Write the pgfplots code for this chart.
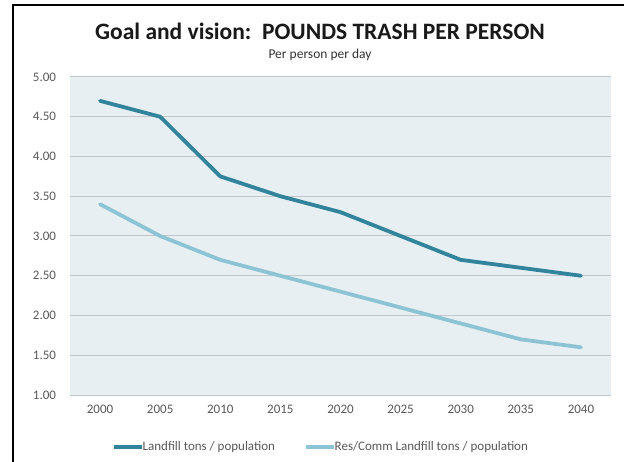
\documentclass[border=0pt]{standalone}
\usepackage{pgfplots}
\pgfplotsset{compat=1.18}
\usepackage{fontspec}
\setmainfont{Carlito}

\definecolor{darkaqua}{HTML}{31849B}
\definecolor{lightaqua}{HTML}{8CC4D6}
\definecolor{plotbg}{HTML}{E7EFF3}
\definecolor{gridgray}{HTML}{C4C7C9}
\definecolor{ticktext}{HTML}{595959}

\begin{document}
\begin{tikzpicture}[x=1pt,y=1pt]
% page size 624 x 462, origin top-left
\path[use as bounding box] (0,0) rectangle (624,-462);
\fill[white] (0,0) rectangle (624,-462);
\draw[black,line width=2pt] (13,-462) -- (13,-5) -- (624,-5);

\begin{axis}[
    at={(70pt,-395pt)}, anchor=south west,
    scale only axis,
    width=541pt, height=318pt,
    xmin=1997.5, xmax=2042.5,
    ymin=1, ymax=5,
    xtick={2000,2005,...,2040},
    ytick={1,1.5,...,5},
    x tick label style={/pgf/number format/1000 sep={}},
    y tick label style={/pgf/number format/fixed, /pgf/number format/fixed zerofill, /pgf/number format/precision=2},
    /pgf/number format/assume math mode=true,
    tick label style={font=\fontsize{13}{15}\selectfont, text=ticktext},
    xticklabel style={yshift=-6.5pt},
    yticklabel style={xshift=-10.5pt},
    major tick length=0pt,
    axis background/.style={fill=plotbg},
    axis line style={draw=none},
    ymajorgrids=true,
    grid style={gridgray, line width=1pt},
    clip=false,
]
\addplot[darkaqua, line width=3.8pt, line join=round, line cap=round] coordinates {
    (2000,4.70)(2005,4.50)(2010,3.75)(2015,3.50)(2020,3.30)(2025,3.00)(2030,2.70)(2035,2.60)(2040,2.50)
};
\addplot[lightaqua, line width=3.8pt, line join=round, line cap=round] coordinates {
    (2000,3.40)(2005,3.00)(2010,2.70)(2015,2.50)(2020,2.30)(2025,2.10)(2030,1.90)(2035,1.70)(2040,1.60)
};
\end{axis}

\node[font=\fontsize{23.5}{26}\selectfont\bfseries, text=black!90, anchor=base] at (320,-40) {Goal and vision:\ \ POUNDS TRASH PER PERSON};
\node[font=\fontsize{13.5}{15}\selectfont, text=black!80, anchor=base] at (320,-59) {Per person per day};

% legend
\draw[darkaqua, line width=3.8pt] (114,-447) -- (142,-447);
\node[font=\fontsize{13}{15}\selectfont, text=ticktext, anchor=west, inner sep=0pt] at (142.5,-447) {Landfill tons / population};
\draw[lightaqua, line width=3.8pt] (306,-447) -- (334,-447);
\node[font=\fontsize{13}{15}\selectfont, text=ticktext, anchor=west, inner sep=0pt] at (334.5,-447) {Res/Comm Landfill tons / population};
\end{tikzpicture}
\end{document}
